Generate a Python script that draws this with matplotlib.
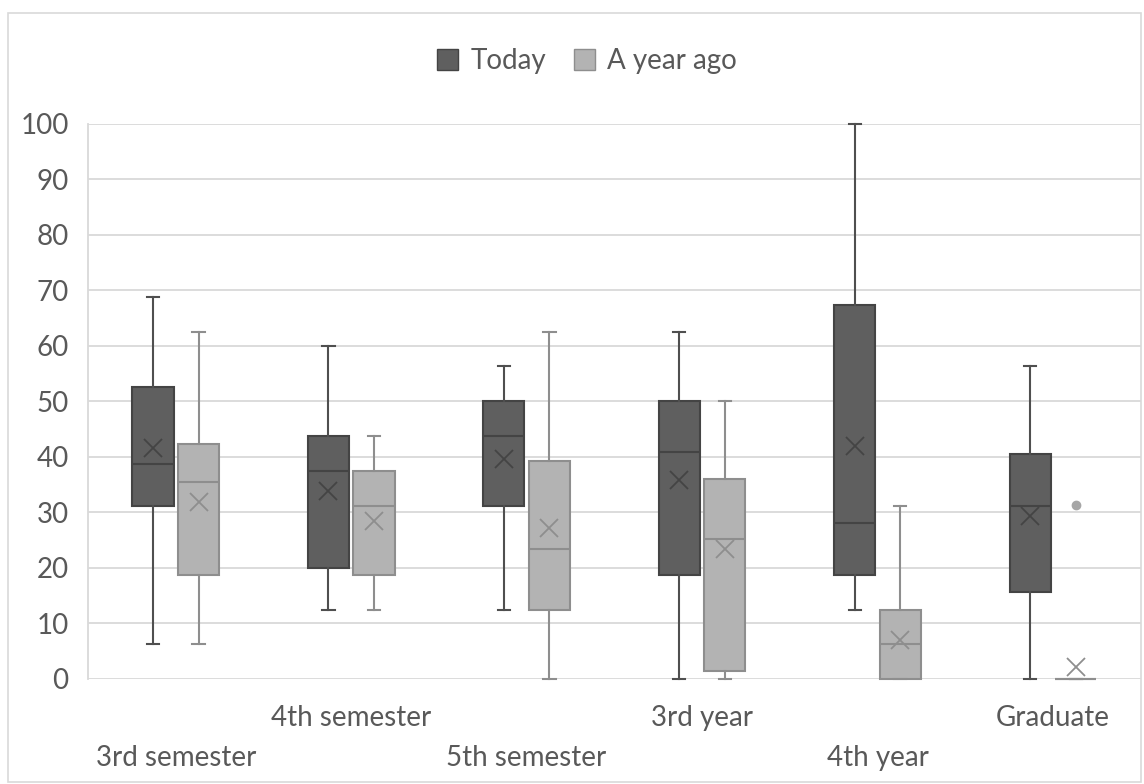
import matplotlib.pyplot as plt
from matplotlib.patches import Patch, Rectangle

plt.rcParams["font.family"] = ["Lato", "DejaVu Sans"]

categories = ["3rd semester", "4th semester", "5th semester", "3rd year", "4th year", "Graduate"]

# five-number summaries plus mean, per category
today_low = [6.25, 12.5, 12.5, 0, 12.5, 0]
today_q1 = [31.2, 20.0, 31.2, 18.7, 18.7, 15.6]
today_med = [38.7, 37.5, 43.8, 40.8, 28.1, 31.2]
today_q3 = [52.6, 43.8, 50.0, 50.0, 67.3, 40.6]
today_high = [68.8, 60.0, 56.3, 62.5, 100, 56.3]
today_mean = [41.6, 33.9, 39.6, 35.9, 41.9, 29.4]
today_out = [[], [], [], [], [], []]

ago_low = [6.25, 12.5, 0, 0, 0, 0]
ago_q1 = [18.7, 18.7, 12.5, 1.5, 0, 0]
ago_med = [35.4, 31.2, 23.4, 25.2, 6.25, 0]
ago_q3 = [42.3, 37.5, 39.2, 36.0, 12.5, 0]
ago_high = [62.5, 43.8, 62.5, 50.0, 31.2, 0]
ago_mean = [31.9, 28.5, 27.2, 23.4, 7.0, 2.2]
ago_out = [[], [], [], [], [], [31.25]]


def make_stats(low, q1, med, q3, high, mean, out):
    return [dict(whislo=a, q1=b, med=c, q3=d, whishi=e, mean=m, fliers=f)
            for a, b, c, d, e, m, f in zip(low, q1, med, q3, high, mean, out)]


fig = plt.figure(figsize=(11.44, 7.84), dpi=100)
ax = fig.add_axes([0.077, 0.134, 0.92, 0.708])

x = list(range(len(categories)))
w = 0.234
off = 0.13


def draw(stats, pos, face, edge, line):
    ax.bxp(stats, positions=pos, widths=w, patch_artist=True, showmeans=True,
           capwidths=0.07,
           boxprops=dict(facecolor=face, edgecolor=edge, linewidth=1.5),
           medianprops=dict(color=edge, linewidth=1.5),
           whiskerprops=dict(color=line, linewidth=1.5),
           capprops=dict(color=line, linewidth=1.5),
           meanprops=dict(marker="x", markersize=13, markeredgecolor=edge,
                          markeredgewidth=1.3),
           flierprops=dict(marker="o", markersize=6, markerfacecolor="#a6a6a6",
                           markeredgecolor="#a6a6a6"),
           manage_ticks=False, zorder=3)


draw(make_stats(today_low, today_q1, today_med, today_q3, today_high, today_mean, today_out),
     [i - off for i in x], "#5f5f5f", "#444444", "#4f4f4f")
draw(make_stats(ago_low, ago_q1, ago_med, ago_q3, ago_high, ago_mean, ago_out),
     [i + off for i in x], "#b3b3b3", "#8e8e8e", "#8e8e8e")

for art in ax.lines + ax.patches:
    art.set_clip_on(False)

ax.set_xlim(-0.5, len(categories) - 0.5)
ax.set_ylim(0, 100)
ax.set_yticks(range(0, 101, 10))
ax.yaxis.grid(True, color="#d9d9d9", linewidth=1.3)
ax.set_axisbelow(True)
ax.tick_params(axis="y", length=0, labelsize=20, labelcolor="#595959", pad=14)
ax.set_xticks([])
for s in ["top", "right", "bottom"]:
    ax.spines[s].set_visible(False)
ax.spines["left"].set_color("#d9d9d9")
ax.spines["left"].set_linewidth(1.3)

# staggered category labels
for i, name in enumerate(categories):
    y = -0.07 if i % 2 else -0.142
    ax.text(i, y, name, transform=ax.get_xaxis_transform(), ha="center",
            va="center", fontsize=20, color="#595959")

handles = [Patch(facecolor="#5f5f5f", edgecolor="#444444", label="Today"),
           Patch(facecolor="#b3b3b3", edgecolor="#8e8e8e", label="A year ago")]
fig.legend(handles=handles, loc="center", bbox_to_anchor=(0.513, 0.922), ncol=2,
           frameon=False, fontsize=20, labelcolor="#595959", handlelength=0.75,
           handleheight=0.75, handletextpad=0.45, columnspacing=1.0)

fig.patches.append(Rectangle((0.007, 0.002), 0.99, 0.982, transform=fig.transFigure,
                             fill=False, edgecolor="#d9d9d9", linewidth=1.2))

fig.savefig("out.png", dpi=100, facecolor="white")
